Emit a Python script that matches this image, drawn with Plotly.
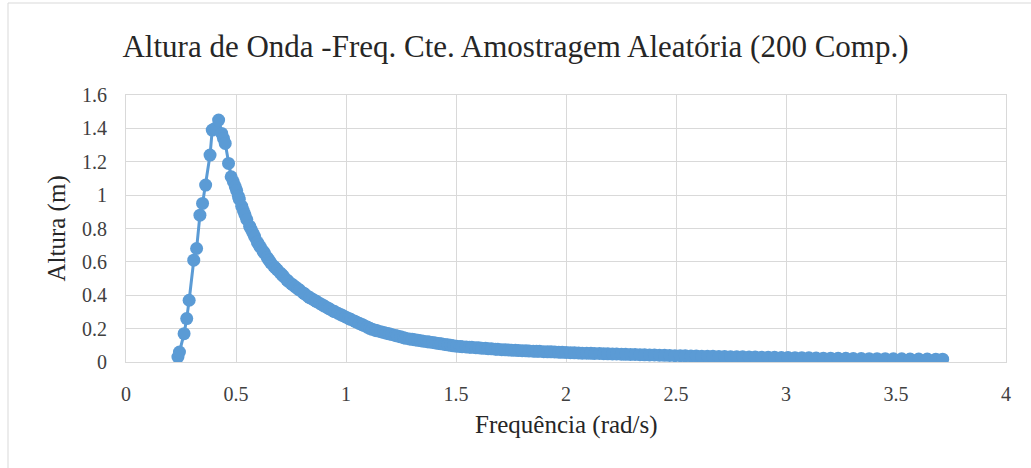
import plotly.graph_objects as go

# Frequências (rad/s) – 200 componentes amostradas aleatoriamente
freq = [
    0.236, 0.243, 0.264, 0.276, 0.287, 0.308, 0.321, 0.336, 0.348, 0.362,
    0.382, 0.392, 0.405, 0.421, 0.435, 0.443, 0.451, 0.466, 0.478, 0.488, 0.497,
    0.503, 0.511, 0.515, 0.526, 0.534, 0.541, 0.549, 0.562, 0.568, 0.577,
    0.585, 0.597, 0.604, 0.611, 0.623, 0.629, 0.642, 0.650, 0.658, 0.671,
    0.679, 0.688, 0.701, 0.709, 0.716, 0.731, 0.738, 0.752, 0.760, 0.771,
    0.783, 0.790, 0.806, 0.812, 0.827, 0.835, 0.846, 0.860, 0.867, 0.881,
    0.893, 0.902, 0.917, 0.925, 0.941, 0.948, 0.963, 0.975, 0.984, 0.998,
    1.012, 1.021, 1.037, 1.046, 1.060, 1.073, 1.081, 1.097, 1.108, 1.119,
    1.134, 1.142, 1.158, 1.171, 1.183, 1.196, 1.207, 1.224, 1.233, 1.249,
    1.262, 1.270, 1.288, 1.301, 1.313, 1.327, 1.340, 1.352, 1.369, 1.378,
    1.394, 1.407, 1.421, 1.433, 1.449, 1.462, 1.476, 1.488, 1.503, 1.519,
    1.528, 1.546, 1.561, 1.572, 1.590, 1.603, 1.617, 1.634, 1.646, 1.661,
    1.679, 1.690, 1.708, 1.724, 1.739, 1.753, 1.770, 1.784, 1.801, 1.818,
    1.832, 1.851, 1.866, 1.880, 1.899, 1.916, 1.932, 1.949, 1.967, 1.983,
    2.001, 2.020, 2.038, 2.057, 2.074, 2.094, 2.113, 2.130, 2.152, 2.171,
    2.190, 2.211, 2.230, 2.252, 2.271, 2.293, 2.314, 2.336, 2.357, 2.380,
    2.402, 2.425, 2.448, 2.471, 2.495, 2.519, 2.542, 2.568, 2.592, 2.617,
    2.643, 2.668, 2.695, 2.721, 2.748, 2.776, 2.803, 2.832, 2.860, 2.889,
    2.919, 2.948, 2.979, 3.009, 3.041, 3.072, 3.104, 3.137, 3.170, 3.203,
    3.237, 3.272, 3.306, 3.342, 3.378, 3.414, 3.451, 3.488, 3.526, 3.564,
    3.603, 3.642, 3.681, 3.712,
]

# Alturas (m)
altura = [
    0.030, 0.060, 0.170, 0.260, 0.370, 0.610, 0.680, 0.880, 0.950, 1.060,
    1.240, 1.390, 1.400, 1.450, 1.370, 1.340, 1.310, 1.190, 1.110, 1.080, 1.050,
    1.027, 0.993, 0.976, 0.934, 0.906, 0.882, 0.854, 0.814, 0.797, 0.773,
    0.751, 0.718, 0.702, 0.688, 0.664, 0.652, 0.626, 0.610, 0.594, 0.575,
    0.564, 0.552, 0.534, 0.523, 0.513, 0.492, 0.483, 0.468, 0.460, 0.449,
    0.437, 0.430, 0.414, 0.408, 0.393, 0.386, 0.378, 0.367, 0.362, 0.351,
    0.342, 0.335, 0.324, 0.318, 0.306, 0.302, 0.292, 0.285, 0.279, 0.270,
    0.261, 0.256, 0.246, 0.240, 0.232, 0.224, 0.219, 0.209, 0.202, 0.196,
    0.190, 0.187, 0.182, 0.177, 0.173, 0.169, 0.165, 0.159, 0.156, 0.151,
    0.146, 0.143, 0.138, 0.136, 0.133, 0.130, 0.128, 0.125, 0.122, 0.120,
    0.117, 0.114, 0.111, 0.109, 0.105, 0.103, 0.100, 0.097, 0.095, 0.093,
    0.092, 0.090, 0.089, 0.088, 0.086, 0.085, 0.083, 0.082, 0.080, 0.079,
    0.077, 0.076, 0.074, 0.073, 0.072, 0.071, 0.070, 0.069, 0.068, 0.067,
    0.066, 0.065, 0.064, 0.064, 0.062, 0.061, 0.061, 0.060, 0.059, 0.058,
    0.057, 0.056, 0.055, 0.054, 0.053, 0.053, 0.052, 0.051, 0.051, 0.050,
    0.049, 0.048, 0.048, 0.047, 0.046, 0.045, 0.045, 0.044, 0.043, 0.042,
    0.042, 0.041, 0.040, 0.039, 0.038, 0.038, 0.037, 0.036, 0.036, 0.035,
    0.035, 0.034, 0.033, 0.033, 0.032, 0.031, 0.031, 0.030, 0.030, 0.029,
    0.028, 0.028, 0.027, 0.027, 0.026, 0.025, 0.025, 0.024, 0.023, 0.023,
    0.022, 0.022, 0.021, 0.021, 0.020, 0.020, 0.020, 0.019, 0.019, 0.018,
    0.018, 0.018, 0.017, 0.017,
]

x_ticks = [0, 0.5, 1, 1.5, 2, 2.5, 3, 3.5, 4]
y_ticks = [0, 0.2, 0.4, 0.6, 0.8, 1, 1.2, 1.4, 1.6]

BLUE = "#5B9BD5"
GRID = "#D9D9D9"
FONT = "Liberation Serif, Times New Roman, serif"

fig = go.Figure()
fig.add_trace(go.Scatter(
    x=freq, y=altura, mode="lines+markers",
    line=dict(color=BLUE, width=3),
    marker=dict(color=BLUE, size=13, line=dict(width=0)),
    showlegend=False, hoverinfo="skip",
))

fig.update_layout(
    width=1031, height=468,
    margin=dict(l=126, r=25, t=95, b=106),
    paper_bgcolor="white", plot_bgcolor="white",
    font=dict(family=FONT, color="#404040", size=20),
    title=dict(
        text="Altura de Onda -Freq. Cte. Amostragem Aleatória (200 Comp.)",
        x=0.5, xref="container", xanchor="center",
        y=1 - 46 / 468, yref="container", yanchor="middle",
        font=dict(family=FONT, size=31, color="#262626"),
    ),
    xaxis=dict(
        range=[0, 4], tickmode="array", tickvals=x_ticks,
        ticktext=[f"{v:g}" for v in x_ticks],
        showgrid=True, gridcolor=GRID, gridwidth=1,
        showline=True, linecolor=GRID, linewidth=1, mirror=True,
        zeroline=False, ticks="", ticklabelstandoff=14,
        tickfont=dict(family=FONT, size=20, color="#404040"),
    ),
    yaxis=dict(
        range=[0, 1.6], tickmode="array", tickvals=y_ticks,
        ticktext=[f"{v:g}" for v in y_ticks],
        showgrid=True, gridcolor=GRID, gridwidth=1,
        showline=True, linecolor=GRID, linewidth=1, mirror=True,
        zeroline=False, ticks="", ticklabelstandoff=14,
        tickfont=dict(family=FONT, size=20, color="#404040"),
    ),
    annotations=[
        dict(text="Frequência (rad/s)", xref="paper", yref="paper",
             x=0.5, y=0, yshift=-63, xanchor="center", yanchor="middle",
             showarrow=False, font=dict(family=FONT, size=25, color="#262626")),
        dict(text="Altura (m)", xref="paper", yref="paper",
             x=0, xshift=-70, y=0.5, xanchor="center", yanchor="middle",
             textangle=-90, showarrow=False,
             font=dict(family=FONT, size=25, color="#262626")),
    ],
    shapes=[
        dict(type="line", xref="paper", yref="paper",
             x0=-118 / 880, x1=-118 / 880, y0=-110 / 267, y1=1 + 92 / 267,
             line=dict(color=GRID, width=1)),
        dict(type="line", xref="paper", yref="paper",
             x0=-118 / 880, x1=910 / 880, y0=1 + 92 / 267, y1=1 + 92 / 267,
             line=dict(color=GRID, width=1)),
    ],
)

fig.write_html("out.html")
